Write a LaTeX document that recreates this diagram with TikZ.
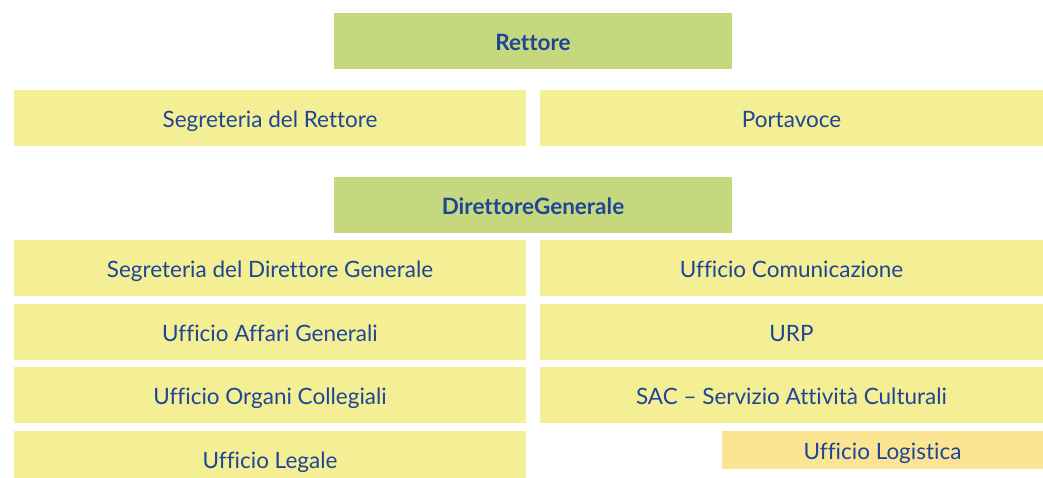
\documentclass[tikz,border=0pt]{standalone}
\usepackage{fontspec}
\setmainfont[Ligatures=NoCommon]{Lato}
\usepackage{tikz}

\definecolor{testo}{HTML}{1F4597}
\definecolor{verde}{HTML}{C5D87E}
\definecolor{giallo}{HTML}{F4EE94}
\definecolor{ocra}{HTML}{FCE592}

\begin{document}
\begin{tikzpicture}[x=1pt, y=-1pt, every node/.style={rectangle, inner sep=0pt, text height=19pt, text depth=0pt, text=testo, font=\fontsize{22.5}{27}\selectfont}]
				\tikzset{capo/.style={fill=verde, minimum width=398pt, minimum height=56pt, font=\fontsize{22.5}{27}\selectfont\bfseries},
				sx/.style={fill=giallo, minimum width=512pt, minimum height=56pt},
				dx/.style={fill=giallo, minimum width=503pt, minimum height=56pt}}
				\useasboundingbox (0,0) rectangle (1043,478);
				
				\node[capo] (rettore) at (533,41){Rettore};
				\node[sx] (segrR) at (270,118){Segreteria del Rettore};
				\node[dx] (portavoce) at (791.5,118){Portavoce};
				
				\node[capo] (dg) at (533,205){DirettoreGenerale};
				\node[sx] (segrDG) at (270,268){Segreteria del Direttore Generale};
				\node[dx] (comunicazione) at (791.5,268){Ufficio Comunicazione};
				\node[sx] (affari) at (270,331.5){Ufficio Affari Generali};
				\node[dx] (urp) at (791.5,331.5){URP};
				\node[sx] (organi) at (270,395){Ufficio Organi Collegiali};
				\node[dx] (sac) at (791.5,395){SAC -- Servizio Attività Culturali};
				\node[sx] (legale) at (270,459){Ufficio Legale};
				\node[fill=ocra, minimum width=321pt, minimum height=38pt] (logistica) at (882.5,450){Ufficio Logistica};
				\end{tikzpicture}
\end{document}
